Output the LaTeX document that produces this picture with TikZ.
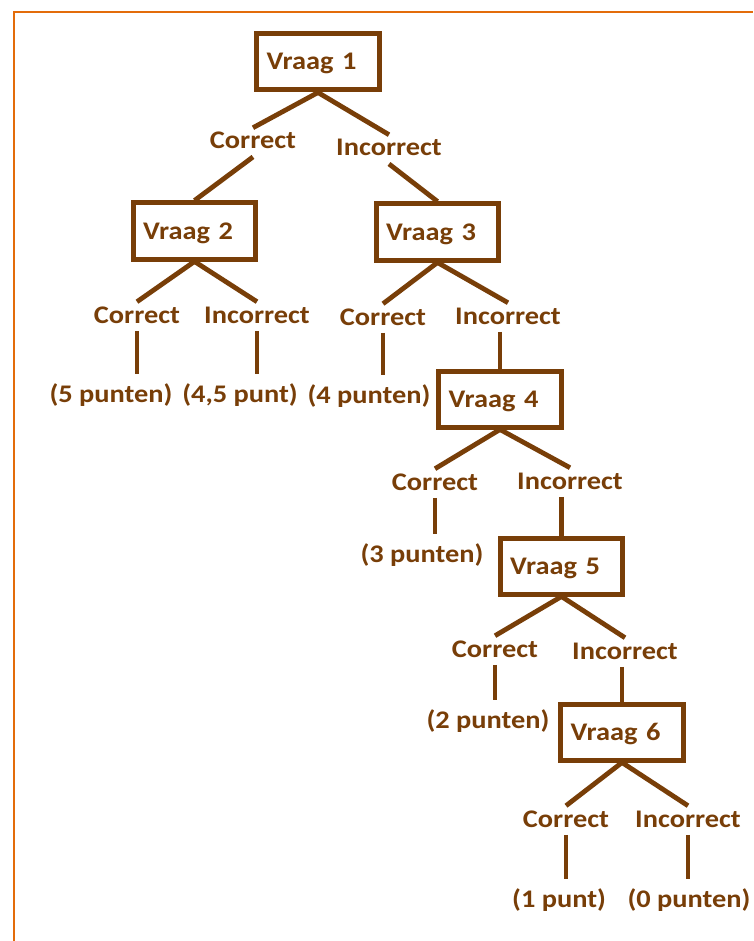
\documentclass[tikz,border=0pt]{standalone}
\usepackage{fontspec}
\setmainfont{Carlito}[FakeStretch=1.12]
\usepackage{tikz}
\usetikzlibrary{calc}
\definecolor{figbrown}{RGB}{120,62,8}
\definecolor{figorange}{RGB}{227,108,10}
\tikzset{
  vbox/.style ={draw=figbrown, line width=3.75pt, minimum width=92pt, minimum height=42pt,
                inner xsep=7.5pt, inner ysep=0pt, text width=77pt, align=left,
                text height=12pt, text depth=0pt,
                text=figbrown, font=\fontsize{19}{22}\selectfont\bfseries},
  lab/.style  ={anchor=base, text=figbrown, font=\fontsize{19}{22}\selectfont\bfseries,
                text height=12pt, text depth=2pt, inner xsep=1pt, inner ysep=3.75pt},
  leaf/.style ={anchor=base, text=figbrown, font=\fontsize{19}{22}\selectfont\bfseries,
                text height=12pt, text depth=4pt, inner xsep=1pt, inner ysep=9pt},
  con/.style  ={draw=figbrown, line width=3.6pt},
}
\begin{document}
\begin{tikzpicture}[x=0.75pt,y=-0.75pt]
  \useasboundingbox (0,0) rectangle (753,941);
  \fill[white] (0,0) rectangle (753,941);
  \clip (0,0) rectangle (753,941);
  \draw[figorange, line width=1.6pt] (14,941) -- (14,12) -- (753,12);
  \node[vbox] (v1) at (318,62) {Vraag 1};
  \node[vbox] (v2) at (194.5,231) {Vraag 2};
  \node[vbox] (v3) at (437.5,232) {Vraag 3};
  \node[vbox] (v4) at (500,399) {Vraag 4};
  \node[vbox] (v5) at (561.5,566) {Vraag 5};
  \node[vbox] (v6) at (622,732) {Vraag 6};
  \node[lab] (c1) at (253,149) {Correct};
  \node[lab] (i1) at (389,156) {Incorrect};
  \node[lab] (c2) at (137,323) {Correct};
  \node[lab] (i2) at (257,323) {Incorrect};
  \node[lab] (c3) at (383,325) {Correct};
  \node[lab] (i3) at (508,324) {Incorrect};
  \node[lab] (c4) at (435,490) {Correct};
  \node[lab] (i4) at (570,489) {Incorrect};
  \node[lab] (c5) at (495,657) {Correct};
  \node[lab] (i5) at (625,659) {Incorrect};
  \node[lab] (c6) at (566,827) {Correct};
  \node[lab] (i6) at (688,827) {Incorrect};
  \node[leaf] (p5) at (111,402) {(5 punten)};
  \node[leaf] (p45) at (240,402) {(4,5 punt)};
  \node[leaf] (p4) at (369,403) {(4 punten)};
  \node[leaf] (p3) at (422,562) {(3 punten)};
  \node[leaf] (p2) at (488,728) {(2 punten)};
  \node[leaf] (p1) at (559,907) {(1 punt)};
  \node[leaf] (p0) at (689,907) {(0 punten)};
  \draw[con] (v1.south) -- (c1.north);
  \draw[con] (c1.south) -- (v2.north);
  \draw[con] (v1.south) -- (i1.north);
  \draw[con] (i1.south) -- (v3.north);
  \draw[con] (v2.south) -- (c2.north);
  \draw[con] (v2.south) -- (i2.north);
  \draw[con] (c2.south) -- (c2.south |- p5.north);
  \draw[con] (i2.south) -- (i2.south |- p45.north);
  \draw[con] (v3.south) -- (c3.north);
  \draw[con] (v3.south) -- (i3.north);
  \draw[con] (c3.south) -- (c3.south |- p4.north);
  \draw[con] (v4.north |- i3.south) -- (v4.north);
  \draw[con] (v4.south) -- (c4.north);
  \draw[con] (v4.south) -- (i4.north);
  \draw[con] (c4.south) -- (c4.south |- p3.north);
  \draw[con] (v5.north |- i4.south) -- (v5.north);
  \draw[con] (v5.south) -- (c5.north);
  \draw[con] (v5.south) -- (i5.north);
  \draw[con] (c5.south) -- (c5.south |- p2.north);
  \draw[con] (v6.north |- i5.south) -- (v6.north);
  \draw[con] (v6.south) -- (c6.north);
  \draw[con] (v6.south) -- (i6.north);
  \draw[con] (c6.south) -- (c6.south |- p1.north);
  \draw[con] (i6.south) -- (i6.south |- p0.north);
\end{tikzpicture}
\end{document}
